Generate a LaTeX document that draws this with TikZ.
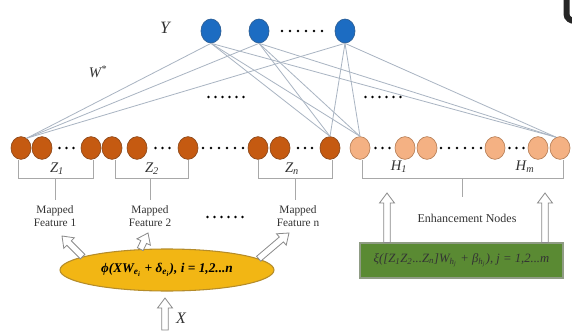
\documentclass[tikz,border=0pt]{standalone}
\usepackage{fontspec}
\setmainfont{Liberation Serif}
\usetikzlibrary{shapes.geometric,calc}

\definecolor{outblue}{HTML}{1C6CC2}
\definecolor{outblueedge}{HTML}{2A5D94}
\definecolor{featfill}{HTML}{C55A11}
\definecolor{featedge}{HTML}{8E4A1C}
\definecolor{enhfill}{HTML}{F4B183}
\definecolor{enhedge}{HTML}{B98159}
\definecolor{linkgray}{HTML}{A9B4C2}
\definecolor{bracegray}{HTML}{A8A8A8}
\definecolor{mapgold}{HTML}{F2B614}
\definecolor{mapedge}{HTML}{B58C2A}
\definecolor{enhgreen}{HTML}{5A8A33}
\definecolor{enhboxedge}{HTML}{8F9C84}
\definecolor{arrowgray}{HTML}{8A8A8A}

% dots placed in a row: start x, y, count, spacing
\newcommand\dotrow[4]{%
  \foreach \k in {1,...,#3}{\fill ({#1+(\k-1)*#4},#2) circle (1.4);}}

\begin{document}
\begin{tikzpicture}[x=0.75pt,y=-0.75pt,
  outnode/.style={ellipse,draw=outblueedge,fill=outblue,line width=0.5pt,
    minimum width=15pt,minimum height=18pt,inner sep=0pt},
  featnode/.style={ellipse,draw=featedge,fill=featfill,line width=0.5pt,
    minimum width=15pt,minimum height=17pt,inner sep=0pt},
  enhnode/.style={ellipse,draw=enhedge,fill=enhfill,line width=0.5pt,
    minimum width=15pt,minimum height=17pt,inner sep=0pt},
  link/.style={draw=linkgray,line width=0.6pt},
  brace/.style={draw=bracegray,line width=0.7pt},
  caption/.style={font=\fontsize{8.5}{9.5}\selectfont,align=center,text=black!80},
  lbl/.style={font=\fontsize{11}{11}\selectfont\itshape,text=black!80},
  % block arrow outline from the start point to the target point
  hollow/.style={draw=arrowgray,fill=white,line width=0.6pt,line join=miter,
    to path={let \p1=(\tikztostart), \p2=(\tikztotarget),
      \n1={atan2(\y2-\y1,\x2-\x1)} in
      ($(\p1)+(\n1+90:2.4pt)$)
      -- ($(\p2)+(\n1+180:7.5pt)+(\n1+90:2.4pt)$)
      -- ($(\p2)+(\n1+180:7.5pt)+(\n1+90:5.6pt)$)
      -- (\p2)
      -- ($(\p2)+(\n1+180:7.5pt)+(\n1-90:5.6pt)$)
      -- ($(\p2)+(\n1+180:7.5pt)+(\n1-90:2.4pt)$)
      -- ($(\p1)+(\n1-90:2.4pt)$) -- cycle}},
  mapell/.style={ellipse,draw=mapedge,fill=mapgold,line width=0.8pt,
    minimum width=160.5pt,minimum height=31.5pt,inner sep=0pt},
  enhbox/.style={rectangle,draw=enhboxedge,fill=enhgreen,line width=0.8pt,
    minimum width=152.25pt,minimum height=26.25pt,inner sep=0pt}
]
\useasboundingbox (0,0) rectangle (572,332);
\fill[white] (0,0) rectangle (572,332);

% output layer
\node[outnode] (y1) at (211,31) {};
\node[outnode] (y2) at (259,31) {};
\node[outnode] (y3) at (345,31) {};
\node[font=\fontsize{13}{13}\selectfont\itshape,text=black!80] (ylab) at (165,28) {Y};
\node[font=\fontsize{11}{11}\selectfont\itshape,text=black!80] (wlab) at (98,72) {W\textsuperscript{*}};

% mapped feature nodes
\foreach \n/\x in {z11/21,z12/42,z1n/91,z21/112,z22/137,z2n/188,zn1/258,zn2/280,znn/330}
  \node[featnode] (\n) at (\x,148) {};
% enhancement nodes
\foreach \n/\x in {h11/360,h12/405,h21/427,hm1/495,hm2/538,hmn/560}
  \node[enhnode] (\n) at (\x,148) {};

% weights to the output layer
\foreach \t in {y1,y2,y3}{
  \draw[link] (\t.south) -- (z11.60);
  \draw[link] (\t.south) -- (znn.north);
  \draw[link] (\t.south) -- (h11.north);
  \draw[link] (\t.south) -- (hmn.110);
}

% ellipsis dots
\dotrow{59.5}{148}{3}{7}
\dotrow{155.5}{148}{3}{7}
\dotrow{203}{148}{6}{8}
\dotrow{298}{148}{3}{7}
\dotrow{375.5}{148}{3}{7}
\dotrow{441}{148}{6}{8}
\dotrow{509.5}{148}{3}{7}
\dotrow{282}{31}{6}{8}
\dotrow{208.5}{97}{6}{7}
\dotrow{365.5}{97}{6}{7}
\dotrow{207.5}{217}{6}{7}

% group brackets
\draw[brace] (18,160) -- (18,178) -- (93,178) -- (93,160);
\draw[brace] (55,178) -- (55,200);
\draw[brace] (115,160) -- (115,178) -- (188,178) -- (188,160);
\draw[brace] (150,178) -- (150,200);
\draw[brace] (258,160) -- (258,178) -- (332,178) -- (332,160);
\draw[brace] (295,178) -- (295,200);
\draw[brace] (362,160) -- (362,178) -- (563,178) -- (563,160);
\draw[brace] (462,178) -- (462,197);

\node[lbl] (zl1) at (57,169) {Z\textsubscript{1}};
\node[lbl] (zl2) at (152,169) {Z\textsubscript{2}};
\node[lbl] (zln) at (292,169) {Z\textsubscript{n}};
\node[lbl] (hl1) at (399,167) {H\textsubscript{1}};
\node[lbl] (hlm) at (525,167) {H\textsubscript{m}};

\node[caption] (mf1) at (55,216) {Mapped\\Feature 1};
\node[caption] (mf2) at (150,216) {Mapped\\Feature 2};
\node[caption] (mfn) at (298,216) {Mapped\\Feature n};
\node[caption,font=\fontsize{9}{10}\selectfont] (enl) at (467,218) {Enhancement Nodes};

% feature mapping
\node[mapell] (map) at (167,270)
  {\fontsize{10}{10}\selectfont\bfseries\itshape ϕ(XW\textsubscript{e\textsubscript{i}} + δ\textsubscript{e\textsubscript{i}}), i = 1,2...n};
\coordinate (a1) at (62,236);
\coordinate (a2) at (148,233);
\coordinate (a3) at (289,233);
\draw[hollow] (map.171) to (a1);
\draw[hollow] (map.142) to (a2);
\draw[hollow] (map.7) to (a3);

\coordinate (xin) at (165,330);
\coordinate (xtip) at (165,298);
\draw[hollow] (xin) to (xtip);
\node[font=\fontsize{12}{12}\selectfont\itshape,text=black!80] (xlab) at (181,318) {X};

% enhancement mapping
\node[enhbox] (enh) at (461.5,260.5)
  {\fontsize{9.5}{10}\selectfont\itshape\color{black!80}ξ([Z\textsubscript{1}Z\textsubscript{2}...Z\textsubscript{n}]W\textsubscript{h\textsubscript{j}} + β\textsubscript{h\textsubscript{j}}), j = 1,2...m};
\coordinate (u1) at (387,193);
\coordinate (u2) at (545,193);
\draw[hollow] (enh.north -| u1) to (u1);
\draw[hollow] (enh.north -| u2) to (u2);

% corner mark at the top right
\draw[black!85,line width=4.5pt] (566.5,-4) -- (566.5,14) to[out=-90,in=180] (575,21);
\end{tikzpicture}
\end{document}
